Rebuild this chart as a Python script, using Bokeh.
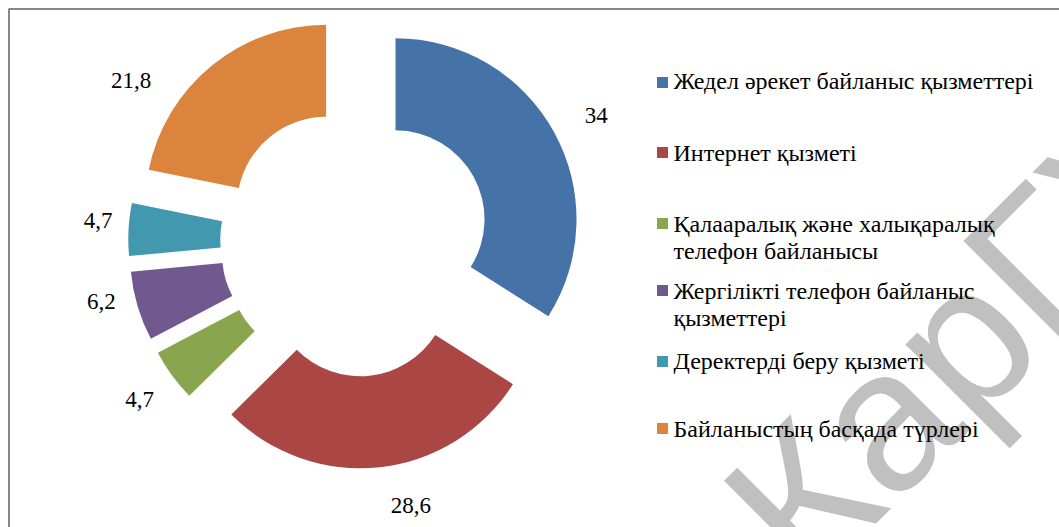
import numpy as np
from bokeh.plotting import figure
from bokeh.models import Range1d, ColumnDataSource
from bokeh.core.properties import value
from bokeh.embed import file_html
from bokeh.resources import INLINE

# ---------------- data ----------------
categories = [
    "Жедел әрекет байланыс қызметтері",
    "Интернет қызметі",
    "Қалааралық және халықаралық\nтелефон байланысы",
    "Жергілікті телефон байланыс\nқызметтері",
    "Деректерді беру қызметі",
    "Байланыстың басқада түрлері",
]
values = [34, 28.6, 4.7, 6.2, 4.7, 21.8]
value_labels = ["34", "28,6", "4,7", "6,2", "4,7", "21,8"]
colors = ["#4572A7", "#AA4643", "#89A54E", "#71588F", "#4198AF", "#DB843D"]

# ---------------- layout constants ----------------
W, H = 1059, 527
CX, CY = 354.7, 241.0          # pie centre (screen px)
R_OUT, R_IN = 181.0, 89.0
EXPLODE = 46.0
label_nudge_deg = [1.4, -7.0, 0.0, 4.0, 2.0, -18.0]
label_dist = [226, 224, 221, 215, 212, 232]
legend_sq_y = [82, 152, 223, 290, 361, 428]
legend_txt_y = [80, 152, 237, 304, 360, 428]
FONT = "Liberation Serif"

p = figure(width=W, height=H, x_range=Range1d(0, W), y_range=Range1d(0, H),
           x_axis_type=None, y_axis_type=None, toolbar_location=None,
           output_backend="svg", min_border=0, outline_line_color=None,
           background_fill_color="white", border_fill_color="white")

# watermark
p.text(x=[760], y=[H - 540], text=["КарГУ"], angle=[np.deg2rad(45)],
       text_font=value("Liberation Sans"), text_font_size="200px",
       text_color="#c0c0c0", text_align="left", text_baseline="alphabetic")

# frame border
p.line(x=[8.5, 8.5, W + 20], y=[-20, H - 8.5, H - 8.5], line_color="#878787", line_width=2)

# ---------------- donut ----------------
vals = np.array(values, dtype=float)
frac = vals / vals.sum()
cum = np.cumsum(frac)
start = cum - frac
mid = (start + cum) / 2
theta = mid * 2 * np.pi  # clockwise from top
cx = CX + EXPLODE * np.sin(theta)
cy = (H - CY) + EXPLODE * np.cos(theta)

src = ColumnDataSource(dict(
    x=cx, y=cy,
    start=np.pi / 2 - start * 2 * np.pi,
    end=np.pi / 2 - cum * 2 * np.pi,
    color=colors,
))
p.annular_wedge(x="x", y="y", inner_radius=R_IN, outer_radius=R_OUT,
                start_angle="start", end_angle="end", direction="clock",
                fill_color="color", line_color=None, source=src)

# value labels
lt = theta + np.deg2rad(label_nudge_deg)
lx = cx + np.array(label_dist) * np.sin(lt)
ly = cy + np.array(label_dist) * np.cos(lt)
p.text(x=lx, y=ly, text=value_labels, text_font=value(FONT), text_font_size="23px",
       text_color="black", text_align="center", text_baseline="middle")

# legend
p.rect(x=[662] * len(categories), y=[H - v for v in legend_sq_y], width=11, height=11,
       fill_color=colors, line_color=None)
p.text(x=[673] * len(categories), y=[H - v for v in legend_txt_y], text=categories,
       text_font=value(FONT), text_font_size="24px", text_color="black",
       text_align="left", text_baseline="middle", text_line_height=1.05)

open("out.html", "w").write(file_html(p, INLINE))
